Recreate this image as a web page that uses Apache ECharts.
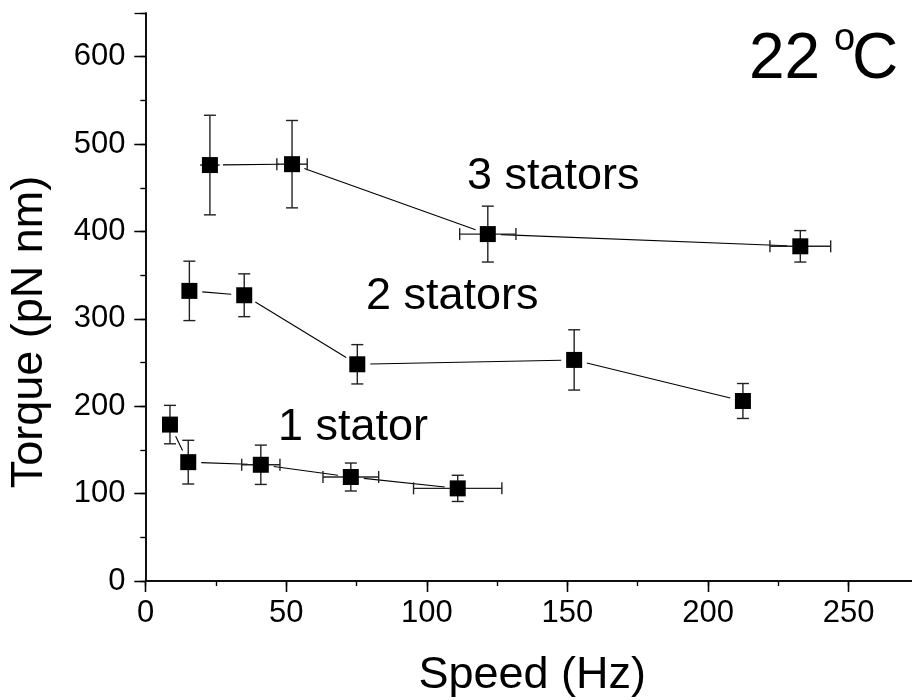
<!DOCTYPE html>
<html>
<head>
<meta charset="utf-8">
<script src="https://cdn.jsdelivr.net/npm/echarts@6/dist/echarts.min.js"></script>
<style>html,body{margin:0;padding:0;background:#fff;}#c{width:912px;height:700px;}</style>
</head>
<body>
<div id="c"></div>
<script>
// ---- data ----
const speed3 = [22.9, 52.1, 121.7, 232.8];
const torque3 = [476, 477, 397, 383];
const torqueErr3 = [57, 50, 32, 18];
const speedErr3 = [3.5, 5.4, 10, 10.8];

const speed2 = [15.6, 35.1, 75.3, 152.4, 212.4];
const torque2 = [332, 327, 248, 253, 206];
const torqueErr2 = [34, 24.5, 22.5, 34.5, 20];
const speedErr2 = [0, 0, 0, 0, 0];

const speed1 = [8.7, 15.2, 41, 73, 111];
const torque1 = [179, 136, 133, 119, 106];
const torqueErr1 = [22, 25, 22.5, 16, 15];
const speedErr1 = [0, 0, 6.8, 9.9, 15.7];

const xTicks = [0, 50, 100, 150, 200, 250];
const yTicks = [0, 100, 200, 300, 400, 500, 600];

const seriesNames = ['1 stator', '2 stators', '3 stators'];
const groups = [
  {name: seriesNames[0], x: speed1, y: torque1, xe: speedErr1, ye: torqueErr1},
  {name: seriesNames[1], x: speed2, y: torque2, xe: speedErr2, ye: torqueErr2},
  {name: seriesNames[2], x: speed3, y: torque3, xe: speedErr3, ye: torqueErr3}
];

const FONT = 'Liberation Sans, Arial, sans-serif';
const chart = echarts.init(document.getElementById('c'), null, {renderer: 'canvas'});

function errorRender(params, api) {
  const x = api.value(0), y = api.value(1), xe = api.value(2), ye = api.value(3);
  const st = {stroke: '#222', lineWidth: 1.4, fill: null};
  const children = [];
  const cap = 6;
  if (ye > 0) {
    const a = api.coord([x, y + ye]), b = api.coord([x, y - ye]);
    children.push({type: 'line', shape: {x1: a[0], y1: a[1], x2: b[0], y2: b[1]}, style: st});
    children.push({type: 'line', shape: {x1: a[0] - cap, y1: a[1], x2: a[0] + cap, y2: a[1]}, style: st});
    children.push({type: 'line', shape: {x1: b[0] - cap, y1: b[1], x2: b[0] + cap, y2: b[1]}, style: st});
  }
  if (xe > 0) {
    const a = api.coord([x - xe, y]), b = api.coord([x + xe, y]);
    children.push({type: 'line', shape: {x1: a[0], y1: a[1], x2: b[0], y2: b[1]}, style: st});
    if (xe > 4) {
      children.push({type: 'line', shape: {x1: a[0], y1: a[1] - cap, x2: a[0], y2: a[1] + cap}, style: st});
      children.push({type: 'line', shape: {x1: b[0], y1: b[1] - cap, x2: b[0], y2: b[1] + cap}, style: st});
    }
  }
  return {type: 'group', children: children};
}

function segRender(params, api) {
  const p = api.coord([api.value(0), api.value(1)]);
  const q = api.coord([api.value(2), api.value(3)]);
  const dx = q[0] - p[0], dy = q[1] - p[1];
  const len = Math.sqrt(dx * dx + dy * dy);
  const gap = 13;
  if (len <= 2 * gap) return null;
  const ux = dx / len, uy = dy / len;
  return {type: 'line', shape: {x1: p[0] + ux * gap, y1: p[1] + uy * gap, x2: q[0] - ux * gap, y2: q[1] - uy * gap},
    style: {stroke: '#000', lineWidth: 1.1}};
}

const series = [];
groups.forEach(g => {
  const segs = [];
  for (let i = 0; i < g.x.length - 1; i++) segs.push([g.x[i], g.y[i], g.x[i + 1], g.y[i + 1]]);
  series.push({type: 'custom', name: g.name + ' line', renderItem: segRender, data: segs, z: 2, silent: true,
    encode: {x: [0, 2], y: [1, 3]}});
  series.push({type: 'custom', name: g.name + ' error', renderItem: errorRender, z: 3, silent: true,
    data: g.x.map((v, i) => [v, g.y[i], g.xe[i], g.ye[i]]), encode: {x: 0, y: 1}});
  series.push({type: 'scatter', name: g.name, symbol: 'rect', symbolSize: 16, z: 4, silent: true,
    itemStyle: {color: '#000', opacity: 1}, emphasis: {disabled: true},
    data: g.x.map((v, i) => [v, g.y[i]])});
});

const axisLine = {show: true, lineStyle: {color: '#000', width: 1.5}};
const xMajorLabel = {show: true, fontSize: 31, color: '#000', fontFamily: FONT, margin: 17, showMaxLabel: false,
  formatter: v => xTicks.indexOf(v) >= 0 ? String(v) : ''};
const yMajorLabel = {show: true, fontSize: 31, color: '#000', fontFamily: FONT, margin: 20, showMaxLabel: false,
  formatter: v => yTicks.indexOf(v) >= 0 ? String(v) : ''};

const option = {
  animation: false,
  backgroundColor: '#fff',
  grid: {left: 145.5, top: 13, right: -7, bottom: 119, containLabel: false, outerBoundsMode: 'none'},
  xAxis: [
    {type: 'value', min: 0, max: 275, interval: 50, position: 'bottom', axisLine: axisLine,
     axisTick: {show: true, length: 11, lineStyle: {color: '#000', width: 1.3}},
     axisLabel: xMajorLabel, splitLine: {show: false},
     name: 'Speed (Hz)', nameLocation: 'middle', nameGap: 72,
     nameTextStyle: {fontSize: 45, color: '#000', fontFamily: FONT}},
    {type: 'value', min: 0, max: 275, interval: 25, position: 'bottom', axisLine: {show: false},
     axisTick: {show: true, length: 5, lineStyle: {color: '#000', width: 1.2}}, axisLabel: {show: false}, splitLine: {show: false}},
    {type: 'value', min: 0, max: 275, interval: 50, position: 'top', axisLine: axisLine,
     axisTick: {show: true, inside: true, length: 11, lineStyle: {color: '#000', width: 1.3}}, axisLabel: {show: false}, splitLine: {show: false}},
    {type: 'value', min: 0, max: 275, interval: 25, position: 'top', axisLine: {show: false},
     axisTick: {show: true, inside: true, length: 5, lineStyle: {color: '#000', width: 1.2}}, axisLabel: {show: false}, splitLine: {show: false}}
  ],
  yAxis: [
    {type: 'value', min: 0, max: 650, interval: 100, position: 'left', axisLine: axisLine,
     axisTick: {show: true, length: 11, lineStyle: {color: '#000', width: 1.3}},
     axisLabel: yMajorLabel, splitLine: {show: false},
     name: 'Torque (pN nm)', nameLocation: 'middle', nameGap: 93,
     nameTextStyle: {fontSize: 45, color: '#000', fontFamily: FONT, padding: [0, 70, 0, 0]}},
    {type: 'value', min: 0, max: 650, interval: 50, position: 'left', axisLine: {show: false},
     axisTick: {show: true, length: 5, lineStyle: {color: '#000', width: 1.2}}, axisLabel: {show: false}, splitLine: {show: false}},
    {type: 'value', min: 0, max: 650, interval: 100, position: 'right', axisLine: axisLine,
     axisTick: {show: true, inside: true, length: 11, lineStyle: {color: '#000', width: 1.3}}, axisLabel: {show: false}, splitLine: {show: false}},
    {type: 'value', min: 0, max: 650, interval: 50, position: 'right', axisLine: {show: false},
     axisTick: {show: true, inside: true, length: 5, lineStyle: {color: '#000', width: 1.2}}, axisLabel: {show: false}, splitLine: {show: false}}
  ],
  series: series,
  graphic: [
    {type: 'text', left: 467, top: 176.3 - 22.5, style: {text: seriesNames[2], font: '45px ' + FONT, fill: '#000'}},
    {type: 'text', left: 366, top: 297 - 22.5, style: {text: seriesNames[1], font: '45px ' + FONT, fill: '#000'}},
    {type: 'text', left: 278, top: 428 - 22.5, style: {text: seriesNames[0], font: '45px ' + FONT, fill: '#000'}},
    {type: 'text', left: 749, top: 60.3 - 32, style: {text: '22', font: '64px ' + FONT, fill: '#000'}},
    {type: 'text', left: 834, top: 42 - 21, style: {text: 'o', font: '38px ' + FONT, fill: '#000'}},
    {type: 'text', left: 852, top: 60.3 - 32, style: {text: 'C', font: '64px ' + FONT, fill: '#000'}}
  ]
};
chart.setOption(option);
</script>
</body>
</html>
